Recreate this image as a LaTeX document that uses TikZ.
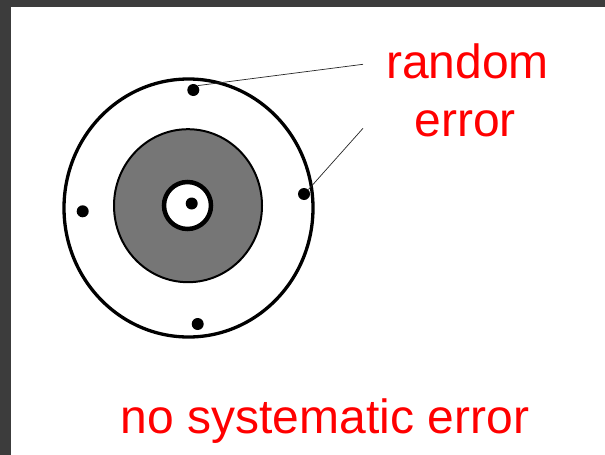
\documentclass[tikz,border=0pt]{standalone}
\usepackage{fontspec}
\setmainfont{Liberation Sans}
\definecolor{frame}{HTML}{3C3C3C}
\definecolor{shade}{HTML}{767676}
\begin{document}
\begin{tikzpicture}[x=1pt,y=-1pt,
  dotnode/.style={circle,fill=black,inner sep=0pt,minimum size=12pt},
  leader/.style={draw=black!85,line width=0.7pt},
  redtext/.style={text=red,font=\fontsize{48}{56}\selectfont,anchor=base,inner sep=0pt}]
\useasboundingbox (0,0) rectangle (605,455);
\fill[frame] (0,0) rectangle (605,455);
\fill[white] (11,7) rectangle (605,455);
% rings
\draw[line width=3.3pt] (188.5,208) ellipse [x radius=124.5, y radius=129];
\draw[fill=shade,line width=2pt] (188,205.7) ellipse [x radius=74, y radius=76.5];
\draw[fill=white,line width=4.5pt] (187.5,205.5) circle [radius=23.5];
% dots
\node[dotnode] (c) at (191.7,203.5) {};
\node[dotnode] (t) at (193.3,90) {};
\node[dotnode] (r) at (304,194) {};
\node[dotnode] (l) at (82.7,211.3) {};
\node[dotnode] (b) at (197.7,324) {};
% labels
\node[redtext] (random) at (467.5,78) {random};
\node[redtext] (error) at (465.3,136.7) {error};
\node[redtext] (nosys) at (325,433) {no systematic error};
\coordinate (e1) at (363,64.3);
\coordinate (e2) at (363,128.3);
\draw[leader] (t.north east) -- (e1);
\draw[leader] (r.north east) -- (e2);
\end{tikzpicture}
\end{document}
